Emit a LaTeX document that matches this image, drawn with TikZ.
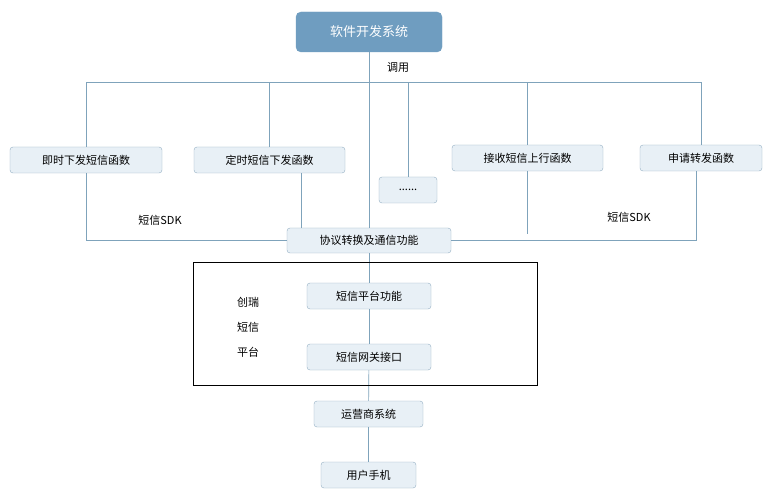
\documentclass[tikz,border=0pt]{standalone}
\usepackage{fontspec}
\setmainfont{Noto Sans CJK SC}
\usepackage{xcolor}
\definecolor{linec}{HTML}{7FA3BB}
\definecolor{boxfill}{HTML}{E8F0F6}
\definecolor{boxdraw}{HTML}{93AFC3}
\definecolor{topfill}{HTML}{6F9DC0}
\tikzset{
  fbox/.style={rectangle, rounded corners=3pt, fill=boxfill, draw=boxdraw, font=\fontsize{11}{13}\selectfont, inner sep=0pt},
  conn/.style={draw=linec, line width=0.7pt},
  lbl/.style={font=\fontsize{11}{13}\selectfont}
}
\begin{document}
\begin{tikzpicture}[x=1pt,y=-1pt]
\useasboundingbox[fill=white] (0,0) rectangle (772,500);
\node at (369,32) [fbox, fill=topfill, draw=topfill, text=white, rounded corners=5pt, minimum width=146pt, minimum height=40pt, font=\fontsize{13}{15}\selectfont] (sys) {软件开发系统};
\node at (86,160) [fbox, minimum width=152pt, minimum height=26pt] (send) {即时下发短信函数};
\node at (269.5,160) [fbox, minimum width=151pt, minimum height=26pt] (timed) {定时短信下发函数};
\node at (408,190) [fbox, minimum width=58pt, minimum height=26pt] (dots) {......};
\node at (527.5,158) [fbox, minimum width=151pt, minimum height=26pt] (recv) {接收短信上行函数};
\node at (701,158) [fbox, minimum width=122pt, minimum height=26pt] (fwd) {申请转发函数};
\node at (369,240.5) [fbox, minimum width=164pt, minimum height=25pt] (proto) {协议转换及通信功能};
\node at (369,296) [fbox, minimum width=124pt, minimum height=26pt] (plat) {短信平台功能};
\node at (369,357) [fbox, minimum width=124pt, minimum height=26pt] (gate) {短信网关接口};
\node at (368.5,414) [fbox, minimum width=109pt, minimum height=26pt] (oper) {运营商系统};
\node at (368.5,475) [fbox, minimum width=95pt, minimum height=26pt] (phone) {用户手机};
\node at (398,67) [lbl] (call) {调用};
\node at (160,220) [lbl] (sdkl) {短信SDK};
\node at (629,217) [lbl] (sdkr) {短信SDK};
\node at (248,327) [lbl, align=center, text width=30pt, font=\fontsize{11}{25}\selectfont] (name) {创瑞\\短信\\平台};
\coordinate (busy) at (0,82);
% upper bus
\draw[conn] (send.north) |- (busy -| fwd.north) -- (fwd.north);
\draw[conn] (timed.north) -- (timed.north |- busy);
\draw[conn] (dots.north) -- (dots.north |- busy);
\draw[conn] (recv.north) -- (recv.north |- busy);
\draw[conn] (sys) -- (proto);
% lower bus
\draw[conn] (send.south) |- (proto.west);
\draw[conn] ([xshift=31.5pt]timed.south) -- ([xshift=31.5pt]timed.south |- proto.north);
\draw[conn] (recv.south) -- ++(0,63);
\draw[conn] ([xshift=-5pt]fwd.south) |- (proto.east);
\draw[conn] (proto) -- (plat);
\draw[conn] (plat) -- (gate);
\draw[conn] (gate) -- (oper);
\draw[conn] (oper) -- (phone);
\draw (193,262) rectangle (537,385);
\end{tikzpicture}
\end{document}
